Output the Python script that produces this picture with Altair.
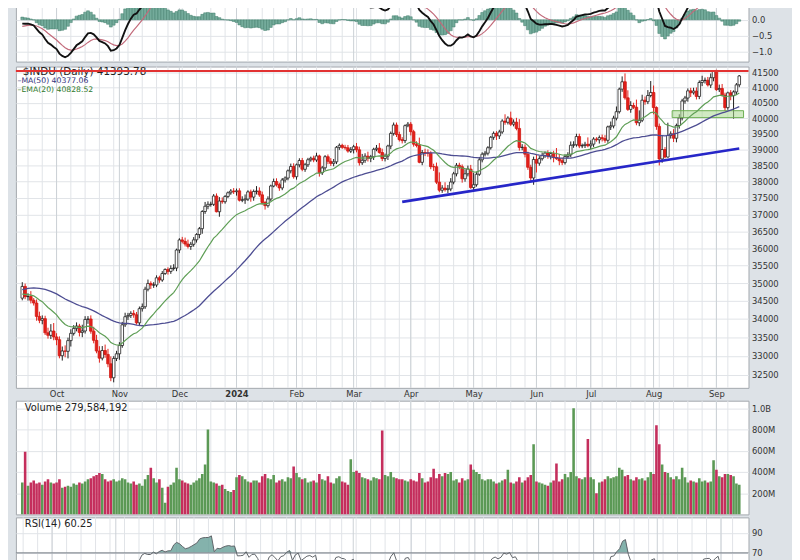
import altair as alt
import pandas as pd
import numpy as np

# ---------------- data ----------------
# closes before the visible window (only used to warm up MA/EMA/PPO/RSI)
warm = [34418, 34288, 33922, 33734, 33944, 34262, 34347, 34395, 34509, 34585, 34952, 35061, 35225, 35228, 35411, 35438, 35520, 35282, 35459, 35560,
        35630, 35283, 35216, 35066, 35473, 35314, 35123, 35176, 35281, 35308, 34946, 34766, 34475, 34501, 34464, 34289, 34473, 34100, 34347, 34560, 34853, 34891, 34722,
        34838, 34642, 34443, 34501, 34577, 34664, 34646, 34576]

close = [34907, 34618, 34624, 34518, 34441, 34070, 33963, 34007, 33619, 33551, 33667, 33508,
         33433, 33002, 33129, 33120, 33408, 33605, 33740, 33805, 33631, 33670, 33985, 33998, 33665, 33415, 33127, 32937, 33141, 33036, 32785, 32418, 32929, 33053,
         33275, 33839, 34061, 34096, 34153, 34112, 33892, 34283, 34337, 34828, 34991, 34945, 34947, 35151, 35088, 35273, 35390, 35333, 35417, 35430, 35951,
         36246, 36204, 36125, 36055, 36118, 36248, 36405, 36578, 37090, 37248, 37306, 37306, 37558, 37083, 37405, 37386, 37545, 37657, 37710, 37690,
         37715, 37431, 37440, 37466, 37683, 37525, 37696, 37711, 37593, 37361, 37267, 37469, 37864, 38001, 37906, 37806, 38050, 38109, 38333, 38467, 38150,
         38519, 38654, 38380, 38521, 38677, 38726, 38671, 38797, 38273, 38424, 38773, 38628, 38564, 38612, 39069, 39131, 39069, 39053, 38949, 38996,
         39087, 38990, 38585, 38661, 38791, 38723, 38770, 39005, 39043, 38906, 38715, 38790, 39111, 39512, 39781, 39476, 39313, 39282, 39760, 39807,
         39567, 39170, 39127, 38597, 38904, 38893, 38884, 38462, 38459, 37983, 37735, 37799, 37753, 37775, 37986, 38240, 38504, 38461, 38086, 38240, 38386, 37816,
         37903, 38226, 38676, 38852, 38884, 39056, 39388, 39513, 39432, 39558, 39908, 39869, 40004, 39807, 39873, 39671, 39065, 39070, 38853, 38442, 38112, 38686,
         38571, 38711, 38807, 38886, 38799, 38868, 38747, 38712, 38647, 38589, 38778, 38834, 39134, 39150, 39411, 39112, 39127, 39164, 39119,
         39170, 39331, 39308, 39376, 39345, 39292, 39721, 39753, 40001, 40212, 40954, 41198, 40665, 40288, 40415, 40358, 39854, 39935, 40589, 40540, 40743, 40843,
         40348, 39737, 38703, 38997, 38763, 39446, 39498, 39357, 39766, 40009, 40563, 40660, 40897, 40834, 40890, 40713, 41175, 41240, 41250, 41091, 41335, 41563,
         40937, 40975, 40756, 40345, 40830, 40737, 40862, 41097, 41394]

# wick extents above / below the candle body (points)
upw = [120, 80, 90, 150, 60, 100, 130, 90, 80, 140, 190, 220,
       100, 90, 120, 150, 80, 110, 90, 100, 60, 170, 90, 80, 100, 120, 150, 130, 120, 160, 150, 200, 60, 80,
       90, 80, 110, 70, 60, 90, 80, 60, 90, 70, 110, 60, 80, 70, 60, 70, 30, 60, 90, 110, 40,
       50, 90, 110, 130, 70, 80, 40, 50, 40, 130, 90, 80, 60, 80, 120, 110, 40, 40, 60, 90,
       70, 80, 110, 140, 50, 70, 60, 150, 110, 100, 50, 80, 40, 90, 100, 60, 60, 50, 40, 90, 100,
       40, 70, 80, 60, 60, 50, 80, 100, 40, 60, 50, 70, 100, 90, 40, 60, 50, 80, 90, 80,
       60, 120, 100, 200, 90, 140, 60, 50, 100, 160, 120, 80, 40, 60, 80, 80, 90, 80, 40, 70,
       70, 60, 90, 250, 80, 120, 110, 60, 90, 130, 300, 90, 180, 120, 120, 60, 70, 80, 70, 140, 110, 130,
       370, 80, 90, 60, 70, 50, 40, 60, 70, 70, 60, 220, 60, 210, 90, 140, 300, 100, 90, 80, 80, 90,
       160, 80, 90, 50, 90, 60, 90, 300, 140, 90, 70, 80, 120, 110, 90, 90, 60, 80, 220,
       120, 60, 60, 70, 100, 110, 40, 140, 80, 170, 50, 180, 280, 250, 140, 90, 250, 320, 180, 120, 180, 380,
       230, 40, 90, 430, 80, 410, 80, 150, 60, 120, 70, 70, 80, 100, 110, 120, 70, 160, 90, 110, 140, 25,
       40, 130, 150, 80, 40, 90, 50, 60, 30]
dnw = [60, 70, 110, 90, 70, 120, 80, 110, 60, 90, 100, 90,
       150, 70, 130, 160, 190, 160, 60, 80, 110, 130, 70, 120, 70, 80, 60, 120, 60, 90, 90, 90, 120, 70,
       160, 60, 60, 90, 70, 80, 50, 90, 80, 60, 60, 110, 80, 60, 80, 50, 40, 90, 70, 60, 90,
       90, 60, 70, 60, 100, 70, 80, 110, 150, 70, 90, 70, 50, 20, 150, 60, 60, 50, 60, 70,
       120, 40, 60, 120, 60, 140, 110, 90, 60, 60, 120, 60, 70, 40, 60, 90, 70, 80, 70, 80, 60,
       90, 80, 60, 80, 70, 60, 70, 60, 120, 70, 80, 90, 80, 90, 70, 80, 50, 60, 50, 60,
       120, 80, 90, 70, 80, 100, 120, 100, 60, 40, 80, 90, 120, 100, 70, 80, 60, 90, 80, 50,
       120, 80, 60, 30, 90, 100, 110, 80, 130, 60, 60, 80, 60, 110, 70, 70, 80, 80, 120, 90, 80, 40,
       90, 60, 50, 80, 70, 70, 60, 80, 130, 100, 60, 80, 70, 60, 70, 60, 100, 90, 100, 80, 110, 210,
       290, 80, 60, 70, 90, 110, 150, 40, 140, 80, 60, 60, 70, 80, 60, 70, 70, 80, 50,
       110, 90, 60, 120, 90, 80, 80, 100, 80, 70, 60, 90, 60, 50, 110, 60, 80, 110, 60, 100, 80, 60,
       220, 110, 204, 120, 40, 20, 100, 120, 130, 100, 80, 90, 120, 140, 60, 100, 90, 120, 100, 50, 100, 120,
       40, 80, 50, 120, 70, 150, 750, 100, 80]

# volume in millions of shares
vol_m = [300, 590, 270, 300, 320, 290, 300, 280, 310, 330, 300, 290,
         300, 330, 250, 260, 270, 260, 290, 280, 300, 290, 310, 330, 340, 360, 370, 390, 380, 330, 310, 320, 330, 310,
         320, 340, 330, 300, 290, 310, 280, 290, 270, 330, 370, 440, 340, 300, 330, 250, 110, 260, 280, 300, 440,
         330, 320, 300, 290, 280, 300, 320, 340, 380, 470, 800, 310, 300, 290, 270, 280, 240, 220, 210, 230,
         350, 370, 360, 330, 310, 300, 320, 320, 300, 360, 380, 340, 330, 370, 300, 320, 330, 310, 350, 340, 450,
         390, 350, 330, 340, 300, 310, 320, 300, 380, 330, 320, 360, 300, 290, 340, 360, 310, 300, 280, 520,
         400, 410, 390, 350, 340, 330, 320, 350, 340, 330, 790, 370, 360, 400, 350, 340, 330, 330, 320, 310,
         330, 320, 310, 390, 340, 300, 310, 350, 430, 340, 380, 360, 390, 380, 400, 320, 330, 300, 340, 320, 330, 470,
         420, 400, 380, 330, 320, 330, 330, 310, 290, 300, 320, 330, 420, 300, 290, 310, 350, 300, 320, 350, 370, 660,
         310, 300, 290, 280, 270, 300, 320, 480, 310, 330, 380, 350, 400, 1000, 360, 340, 330, 350, 710,
         350, 330, 200, 300, 310, 330, 360, 340, 350, 360, 440, 420, 360, 370, 330, 320, 350, 330, 340, 320, 350, 400,
         380, 840, 660, 470, 400, 390, 350, 330, 360, 330, 440, 350, 300, 320, 310, 300, 340, 310, 320, 300, 310, 510,
         420, 360, 350, 380, 380, 370, 360, 290, 279.584192]

month_lbl = ["Oct", "Nov", "Dec", "2024", "Feb", "Mar", "Apr", "May", "Jun", "Jul", "Aug", "Sep"]
price_ticks = list(range(32500, 42000, 500))
ppo_ticks = [-1.0, -0.5, 0.0]
vol_ticks = [2e8, 4e8, 6e8, 8e8, 1e9]
rsi_ticks = [30, 50, 70, 90]
res_level = [41560]
trend_i = [133, 251]
trend_p = [37380, 39030]
zone_i = [227.5, 252.5]
zone_p = [40020, 40245]
title_main = "$INDU (Daily) 41393.78"
title_ma = "\u2013MA(50) 40377.06"
title_ema = "\u2013EMA(20) 40828.52"
title_vol = "Volume 279,584,192"
title_rsi = "RSI(14) 60.25"

# ---------------- derived series ----------------
holidays = ["2023-07-04", "2023-09-04", "2023-11-23", "2023-12-25", "2024-01-01", "2024-01-15",
            "2024-02-19", "2024-03-29", "2024-05-27", "2024-06-19", "2024-07-04", "2024-09-02"]
N = len(close)
alld = pd.bdate_range("2023-07-03", "2024-09-13", freq="C", holidays=holidays)
dates = alld[-N:]
full = pd.Series(np.array(warm + close, dtype=float))
off = len(warm)


def ema(x, n):
    return x.ewm(span=n, adjust=False).mean()


ma50 = full.rolling(50, min_periods=1).mean()
ema20 = ema(full, 20)
ppo = (ema(full, 12) - ema(full, 26)) / ema(full, 26) * 100
sig = ema(ppo, 9)
hist = ppo - sig
dd = full.diff().fillna(0)
gain = dd.clip(lower=0).ewm(alpha=1 / 14, adjust=False).mean()
loss = (-dd.clip(upper=0)).ewm(alpha=1 / 14, adjust=False).mean()
rsi = 100 - 100 / (1 + gain / loss)

cl = full.values[off:]
op = full.values[off - 1:-1]
hi = np.maximum(op, cl) + np.array(upw)
lo = np.minimum(op, cl) - np.array(dnw)
up = cl >= op

df = pd.DataFrame({
    "i": np.arange(N), "o": op, "c": cl, "h": hi, "l": lo,
    "ma50": ma50.values[off:], "ema20": ema20.values[off:],
    "ppo": ppo.values[off:], "sig": sig.values[off:], "hist": hist.values[off:], "zero": 0.0,
    "rsi": rsi.values[off:], "vol": np.array(vol_m) * 1e6,
})
df["rsi_f"] = np.maximum(df["rsi"], 70)
df["c70"] = 70.0
df["wick_col"] = np.where(up, "#1e1e1e", "#e3201b")
df["body_fill"] = np.where(up, "#ffffff", "#e3201b")
df["body_stroke"] = np.where(up, "#1e1e1e", "#d11812")
prev_c = full.values[off - 1:-1]
df["vol_col"] = np.where(cl >= prev_c, "#5b9955", "#c42e5c")

wk = dates.isocalendar().week.values
mo = dates.month.values
week_i = [k for k in range(1, N) if wk[k] != wk[k - 1]]
month_i = [k for k in range(1, N) if mo[k] != mo[k - 1]]
grid = pd.DataFrame({"i": week_i + month_i,
                     "gc": ["#e1e4e8"] * len(week_i) + ["#cbd0d6"] * len(month_i)})

# ---------------- scales / axes ----------------
xs = alt.Scale(domain=[-0.5, N + 0.5], nice=False, zero=False)
lbl_expr = "''"
for k, t in reversed(list(zip(month_i, month_lbl))):
    lbl_expr = f"datum.value == {k} ? '{t}' : ({lbl_expr})"
xax_main = alt.Axis(values=month_i, labelExpr=lbl_expr, title=None, ticks=False, domain=False,
                    grid=False, labelPadding=2, labelFlush=False, labelOverlap=False,
                    labelFontSize=8.5, labelColor="#333",
                    labelFontWeight={"condition": {"test": f"datum.value == {month_i[3]}", "value": "bold"},
                                     "value": "normal"})
W = 741


def yaxis(values, fmt=None, expr=None):
    kw = dict(orient="right", values=values, title=None, ticks=False, domain=False, labelPadding=3,
              grid=True, gridColor="#e1e4e8", labelFlush=False, labelOverlap=False)
    if fmt:
        kw["format"] = fmt
    if expr:
        kw["labelExpr"] = expr
    return alt.Axis(**kw)


def week_grid(xaxis):
    return alt.Chart(grid).mark_rule(strokeWidth=1).encode(
        x=alt.X("i:Q", scale=xs, axis=xaxis), color=alt.Color("gc:N", scale=None))


one = pd.DataFrame({"a": [0]})


def label(txt, x, y, size, color, weight="normal"):
    return alt.Chart(one).mark_text(align="left", baseline="middle", font="DejaVu Sans",
                                    fontSize=size, color=color, fontWeight=weight).encode(
        x=alt.value(x), y=alt.value(y), text=alt.value(txt))


# ---------------- PPO panel ----------------
ys_ppo = alt.Scale(domain=[-1.322, 0.491], nice=False, zero=False)
yax_ppo = yaxis(ppo_ticks, fmt=".1f")
ppo_base = alt.Chart(df)
ppo_chart = alt.layer(
    week_grid(None),
    ppo_base.mark_bar(size=2.9, fill="#74ab9b", stroke="#3f7d6b", strokeWidth=0.5, clip=True).encode(
        x=alt.X("i:Q", scale=xs, axis=None), y=alt.Y("hist:Q", scale=ys_ppo, axis=yax_ppo), y2="zero:Q"),
    ppo_base.mark_line(color="#c26a7a", strokeWidth=1.2, clip=True).encode(
        x=alt.X("i:Q", scale=xs, axis=None), y=alt.Y("sig:Q", scale=ys_ppo, axis=yax_ppo)),
    ppo_base.mark_line(color="#111111", strokeWidth=1.9, clip=True).encode(
        x=alt.X("i:Q", scale=xs, axis=None), y=alt.Y("ppo:Q", scale=ys_ppo, axis=yax_ppo)),
).properties(width=W, height=58)

# ---------------- main price panel ----------------
ys_p = alt.Scale(type="log", domain=[32154, 41710], nice=False)
yax_p = yaxis(price_ticks, fmt="d")
base = alt.Chart(df)
X = alt.X("i:Q", scale=xs, axis=xax_main)
zone = pd.DataFrame({"x0": [zone_i[0]], "x1": [zone_i[1]], "p0": [zone_p[0]], "p1": [zone_p[1]]})
trend = pd.DataFrame({"i": trend_i, "p": trend_p})
res = pd.DataFrame({"p": res_level})

main_chart = alt.layer(
    week_grid(xax_main),
    base.mark_rule(strokeWidth=1, clip=True).encode(
        x=X, y=alt.Y("l:Q", scale=ys_p, axis=yax_p), y2="h:Q", color=alt.Color("wick_col:N", scale=None)),
    base.mark_bar(size=2.6, strokeWidth=0.8, clip=True).encode(
        x=X, y=alt.Y("o:Q", scale=ys_p, axis=yax_p), y2="c:Q",
        fill=alt.Fill("body_fill:N", scale=None), stroke=alt.Stroke("body_stroke:N", scale=None)),
    alt.Chart(zone).mark_rect(fill="#a9d88f", fillOpacity=0.55, stroke="#6cae52", strokeWidth=1).encode(
        x=alt.X("x0:Q", scale=xs, axis=xax_main), x2="x1:Q",
        y=alt.Y("p0:Q", scale=ys_p, axis=yax_p), y2="p1:Q"),
    base.mark_line(color="#4d4d92", strokeWidth=1.3, clip=True).encode(
        x=X, y=alt.Y("ma50:Q", scale=ys_p, axis=yax_p)),
    base.mark_line(color="#5e9e55", strokeWidth=1.2, clip=True).encode(
        x=X, y=alt.Y("ema20:Q", scale=ys_p, axis=yax_p)),
    alt.Chart(trend).mark_line(color="#2626c8", strokeWidth=2.6).encode(
        x=alt.X("i:Q", scale=xs, axis=xax_main), y=alt.Y("p:Q", scale=ys_p, axis=yax_p)),
    label(title_main, 7, 5.5, 10.5, "#222"),
    label(title_ma, 1.7, 15.0, 7.8, "#30307a"),
    label(title_ema, 1.7, 24.0, 7.8, "#2f7a2c"),
    alt.Chart(res).mark_rule(color="#e23232", strokeWidth=2).encode(
        y=alt.Y("p:Q", scale=ys_p, axis=yax_p)),
).properties(width=W, height=325)

# ---------------- volume panel ----------------
ys_v = alt.Scale(domain=[0, 1.07e9], nice=False, zero=False)
yax_v = yaxis(vol_ticks, expr="datum.value >= 1e9 ? format(datum.value/1e9, '.1f') + 'B' : format(datum.value/1e6, 'd') + 'M'")
vol_chart = alt.layer(
    week_grid(None),
    base.mark_bar(size=2.6, clip=True).encode(
        x=alt.X("i:Q", scale=xs, axis=None), y=alt.Y("vol:Q", scale=ys_v, axis=yax_v),
        color=alt.Color("vol_col:N", scale=None)),
    label(title_vol, 9, 7.5, 10, "#222"),
).properties(width=W, height=115)

# ---------------- RSI panel ----------------
ys_r = alt.Scale(domain=[59.0, 105.3], nice=False, zero=False)
yax_r = yaxis(rsi_ticks, fmt="d")
lvl70 = pd.DataFrame({"v": [70]})
rsi_chart = alt.layer(
    week_grid(None),
    base.mark_area(color="#6ea59d", opacity=0.85, clip=True).encode(
        x=alt.X("i:Q", scale=xs, axis=None), y=alt.Y("rsi_f:Q", scale=ys_r, axis=yax_r), y2="c70:Q"),
    alt.Chart(lvl70).mark_rule(color="#8a9097", strokeWidth=1.2).encode(
        y=alt.Y("v:Q", scale=ys_r, axis=yax_r)),
    base.mark_line(color="#5f6368", strokeWidth=1, clip=True).encode(
        x=alt.X("i:Q", scale=xs, axis=None), y=alt.Y("rsi:Q", scale=ys_r, axis=yax_r)),
    label(title_rsi, 9, 6.5, 10, "#222"),
).properties(width=W, height=47)

inner = alt.vconcat(main_chart, vol_chart, rsi_chart, spacing=1).resolve_scale(x="independent", y="independent")
chart = alt.vconcat(ppo_chart, inner, spacing=3).resolve_scale(x="independent", y="independent").properties(
    padding={"left": 6, "top": -8, "right": 13, "bottom": 0},
    background="#dde2e7",
).configure_view(stroke="#a3a8ae", strokeWidth=1, fill="white").configure_axis(
    labelFont="DejaVu Sans", labelFontSize=8.5, labelColor="#333")

chart.save("out.html", embed_options={"renderer": "svg", "actions": False})
